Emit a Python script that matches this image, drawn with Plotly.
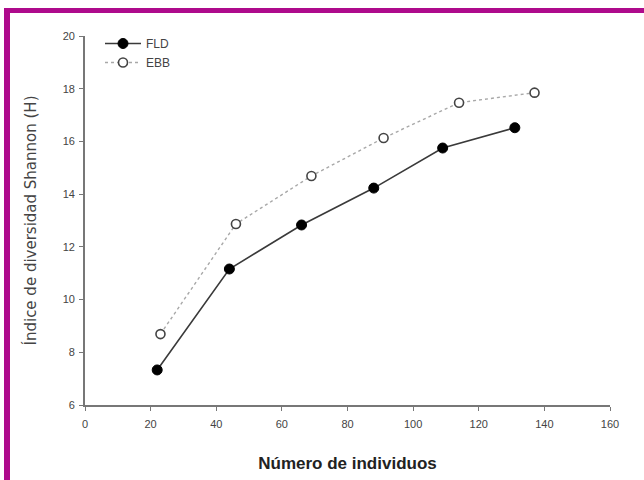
import plotly.graph_objects as go

# Data
fld_x = [22, 44, 66, 88, 109, 131]
fld_y = [7.33, 11.16, 12.83, 14.23, 15.75, 16.52]
ebb_x = [23, 46, 69, 91, 114, 137]
ebb_y = [8.69, 12.87, 14.69, 16.13, 17.47, 17.85]

x_ticks = [0, 20, 40, 60, 80, 100, 120, 140, 160]
y_ticks = [6, 8, 10, 12, 14, 16, 18, 20]

x_title = "Número de individuos"
y_title = "Índice de diversidad Shannon (H)"

W, H = 644, 480
L, R, T, B = 85, 34, 36, 75
pw, ph = W - L - R, H - T - B

def px(x):
    return (x - L) / pw

def py(y):
    return (H - B - y) / ph

fig = go.Figure()
fig.add_trace(go.Scatter(
    x=fld_x, y=fld_y, name="FLD", mode="lines+markers",
    line=dict(color="#3a3a3a", width=1.6),
    marker=dict(symbol="circle", size=10, color="#000000",
                line=dict(color="#000000", width=1)),
))
fig.add_trace(go.Scatter(
    x=ebb_x, y=ebb_y, name="EBB", mode="lines+markers",
    line=dict(color="#a8a8a8", width=1.4, dash="dot"),
    marker=dict(symbol="circle", size=9, color="#ffffff",
                line=dict(color="#444444", width=1.6)),
))

magenta = "#AE0A8C"
fig.update_layout(
    width=W, height=H,
    margin=dict(l=L, r=R, t=T, b=B, autoexpand=False),
    paper_bgcolor="white", plot_bgcolor="white",
    font=dict(family="Liberation Sans, Arial, sans-serif", color="#333333", size=11),
    showlegend=True,
    legend=dict(x=px(100), y=py(29), xanchor="left", yanchor="top",
                bgcolor="rgba(0,0,0,0)", font=dict(size=12, color="#444444"),
                itemwidth=36, tracegroupgap=0),
    xaxis=dict(range=[0, 160], tickvals=x_ticks, showgrid=False, zeroline=False,
               automargin=False,
               showline=True, linecolor="#777777", linewidth=1.8,
               ticks="outside", ticklen=4, tickcolor="#777777", tickwidth=1,
               ticklabelstandoff=4,
               tickfont=dict(size=11, color="#444444"),
               title=dict(text="<b>" + x_title + "</b>", font=dict(size=17, color="#222222"),
                          standoff=28)),
    yaxis=dict(range=[6, 20], tickvals=y_ticks, showgrid=False, zeroline=False,
               automargin=False,
               showline=True, linecolor="#777777", linewidth=1.8,
               ticks="outside", ticklen=4, tickcolor="#777777", tickwidth=1,
               ticklabelstandoff=2,
               tickfont=dict(size=11, color="#444444"),
               title=dict(text=y_title,
                          font=dict(family="DejaVu Sans, Liberation Sans, sans-serif",
                                    size=15, color="#444444"),
                          standoff=22)),
    shapes=[
        dict(type="rect", xref="paper", yref="paper",
             x0=px(4), x1=px(W), y0=py(13), y1=py(8),
             fillcolor=magenta, line=dict(width=0), layer="above"),
        dict(type="rect", xref="paper", yref="paper",
             x0=px(4), x1=px(10), y0=py(H), y1=py(8),
             fillcolor=magenta, line=dict(width=0), layer="above"),
    ],
)

fig.write_html("out.html", config={"displayModeBar": False},
               post_script="document.body.style.margin='0';")
